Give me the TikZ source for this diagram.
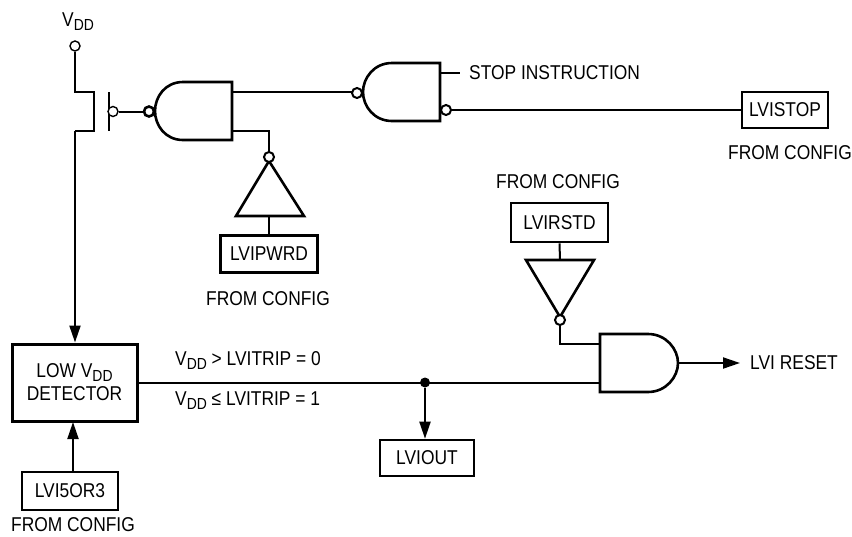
\documentclass[tikz,border=0pt]{standalone}
\usepackage{fontspec}
\setmainfont{Liberation Sans}[FakeStretch=0.87]
\usetikzlibrary{arrows.meta}
\newcommand{\vdd}{V\raisebox{-4pt}{\fontsize{16}{16}\selectfont DD}}
\tikzset{
  x=1pt,y=-1pt,
  txt/.style={font=\fontsize{20}{22}\selectfont,inner sep=0pt,text=black},
  wire/.style={line width=2pt,line join=miter},
  gate/.style={line width=2.6pt,fill=white,line join=miter},
  regbox/.style={draw,line width=2.6pt,font=\fontsize{20}{22}\selectfont,inner sep=0pt,anchor=north west,text=black},
  bubble/.style={circle,draw,line width=2pt,fill=white,minimum size=10pt,inner sep=0pt},
  thinbubble/.style={circle,draw,line width=1.4pt,fill=white,minimum size=10pt,inner sep=0pt},
  arrowed/.style={-{Triangle[length=17pt,width=11pt]}},
  junction/.style={circle,fill=black,minimum size=10pt,inner sep=0pt},
}
\begin{document}
\begin{tikzpicture}
\useasboundingbox (0,0) rectangle (852,536);
% terminals and bubbles
\node[thinbubble] (vdd) at (75,46) {};
\node[txt] (vddl) at (78,22) {\vdd};
\coordinate (sTop) at (94,92);
\coordinate (sBot) at (94,131);
\coordinate (sTopL) at (75,92);
\coordinate (sBotL) at (75,131);
% boxes
\node[regbox,minimum width=125pt,minimum height=77pt,line width=3pt,anchor=center,align=center] (det) at (74.5,382.5) {LOW \vdd\\[1pt]DETECTOR};
\node[regbox,minimum width=97pt,minimum height=37pt,anchor=center] (pwrd) at (269,254) {LVIPWRD};
\node[regbox,minimum width=86pt,minimum height=36pt,anchor=center] (stop) at (785,110) {LVISTOP};
\node[regbox,minimum width=97pt,minimum height=39pt,anchor=center] (rstd) at (559.5,222.5) {LVIRSTD};
\node[regbox,minimum width=94pt,minimum height=36pt,anchor=center] (out) at (427,458) {LVIOUT};
\node[regbox,minimum width=96pt,minimum height=38pt,line width=2pt,anchor=center] (i53) at (70,491) {LVI5OR3};
% labels
\node[txt] (l1) at (268,299) {FROM CONFIG};
\node[txt] (l2) at (790,153) {FROM CONFIG};
\node[txt] (l3) at (558,182) {FROM CONFIG};
\node[txt] (l4) at (73,525) {FROM CONFIG};
\node[txt,anchor=west] (l5) at (469,73) {STOP INSTRUCTION};
\node[txt,anchor=west] (l6) at (750,363) {LVI RESET};
\node[txt,anchor=west] (l7) at (175,361) {\vdd{} > LVITRIP = 0};
\node[txt,anchor=west] (l8) at (175,401) {\vdd{} ≤ LVITRIP = 1};
% PMOS
\draw[wire] (vdd) -- (sTopL) -- (sTop) -- (sBot) -- (sBotL);
\draw[wire,arrowed] (sBotL) -- (sBotL |- det.north);
\draw[wire] (109,92) -- (109,131);
% gate 1
\coordinate (g1o) at (232,92);
\coordinate (g1b) at (232,131);
\coordinate (g2i) at (357,92);
\coordinate (g1inv) at (269,131);
\draw[wire] (g1o) -- (g2i);
\draw[gate] (232,82) -- (183,82) .. controls (165,82) and (155,97) .. (155,111) .. controls (155,125) and (165,140) .. (183,140) -- (232,140) -- cycle;
\node[thinbubble] (b1) at (113,111.5) {};
\node[bubble,line width=2.6pt] (b2) at (149,111.5) {};
\draw[wire] (b1) -- (b2);
% inverter 1
\draw[wire] (g1b) -- (g1inv) -- (269,157);
\draw[gate] (269,161) -- (304,216) -- (236,216) -- cycle;
\node[bubble] (b3) at (269,157) {};
\draw[wire] (269,216) -- (pwrd.north);
% gate 2
\draw[gate] (440,63) -- (392,63) .. controls (374,63) and (363,78) .. (363,92) .. controls (363,106) and (374,121) .. (392,121) -- (440,121) -- cycle;
\node[bubble] (b4) at (357,93) {};
\node[bubble] (b5) at (446,110) {};
\coordinate (g2s) at (440,73);
\coordinate (g2e) at (460,73);
\draw[wire] (g2s) -- (g2e);
\draw[wire] (b5) -- (b5 -| stop.west);
% inverter 2
\draw[wire] (rstd.south) -- (560,260);
\draw[gate] (526,260) -- (594,260) -- (560,317) -- cycle;
\node[bubble] (b6) at (560,320) {};
% AND gate
\coordinate (a1) at (600,344);
\coordinate (a2) at (600,383);
\coordinate (aout) at (678,363);
\coordinate (rst) at (740,363);
\draw[wire] (b6) -- (560,344) -- (a1);
\draw[wire] (det.east |- a2) -- (a2);
\draw[gate] (600,334) -- (648,334) .. controls (666,334) and (678,349) .. (678,363) .. controls (678,377) and (666,392) .. (648,392) -- (600,392) -- cycle;
\draw[wire,arrowed] (aout) -- (rst);
% junction
\node[junction] (dot) at (425,382.5) {};
\draw[wire,arrowed] (dot) -- (dot |- out.north);
\draw[wire,arrowed] (i53.north -| 73,0) -- (73,422);
\end{tikzpicture}
\end{document}
